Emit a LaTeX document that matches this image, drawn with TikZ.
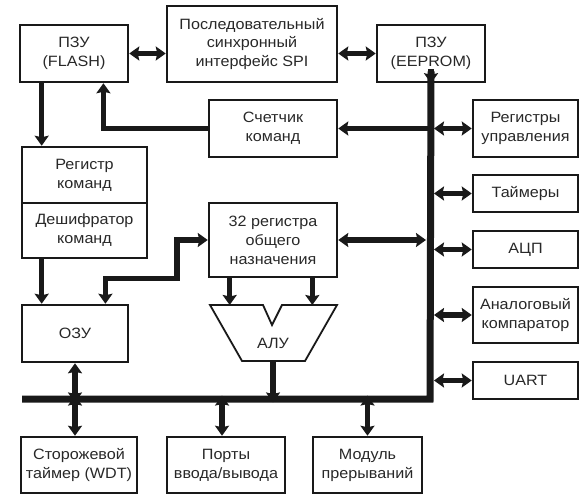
\documentclass[tikz,border=0pt]{standalone}
\usepackage{fontspec}
\setmainfont{Liberation Sans}[FakeStretch=1.08]
\usetikzlibrary{arrows.meta}
\definecolor{txt}{RGB}{40,40,40}
\tikzset{
  blk/.style={draw=black!90, line width=2.5bp, align=center, inner sep=0pt,
    text=txt, font=\fontsize{15}{19}\selectfont},
  conn/.style={line width=5.5bp, draw=black!90},
  arr/.style={conn, -{Stealth[length=10bp,width=14bp,inset=1.5bp]}},
  dbl/.style={conn, {Stealth[length=10bp,width=14bp,inset=1.5bp]}-{Stealth[length=10bp,width=14bp,inset=1.5bp]}},
  busline/.style={line width=7bp, draw=black!90}
}
\begin{document}
\begin{tikzpicture}[x=1bp,y=-1bp]
\useasboundingbox (0,0) rectangle (587,500);
% boxes
\node[blk, minimum width=108bp, minimum height=57bp] (flash) at (74,53.5) {ПЗУ\\(FLASH)};
\node[blk, minimum width=170bp, minimum height=76bp] (spi) at (252,44) {Последовательный\\синхронный\\интерфейс SPI};
\node[blk, minimum width=108bp, minimum height=57bp] (eeprom) at (431,53.5) {ПЗУ\\(EEPROM)};
\node[blk, minimum width=128bp, minimum height=57bp] (pc) at (273,128.5) {Счетчик\\команд};
\node[blk, minimum width=105bp, minimum height=57bp] (regctl) at (525.5,128.5) {Регистры\\управления};
\node[blk, minimum width=125bp, minimum height=56bp] (regcmd) at (84.5,175) {Регистр\\команд};
\node[blk, minimum width=125bp, minimum height=55bp] (decoder) at (84.5,230.5) {Дешифратор\\команд};
\node[blk, minimum width=128bp, minimum height=74bp] (gpr) at (273,240) {32 регистра\\общего\\назначения};
\node[blk, minimum width=105bp, minimum height=37bp] (timers) at (525.5,193.5) {Таймеры};
\node[blk, minimum width=105bp, minimum height=37bp] (adc) at (525.5,249.5) {АЦП};
\node[blk, minimum width=105bp, minimum height=56bp] (comp) at (525.5,315) {Аналоговый\\компаратор};
\node[blk, minimum width=105bp, minimum height=37bp] (uart) at (525.5,380.5) {UART};
\node[blk, minimum width=106bp, minimum height=57bp] (ram) at (75,333.5) {ОЗУ};
\node[blk, minimum width=116bp, minimum height=56bp] (wdt) at (79,465) {Сторожевой\\таймер (WDT)};
\node[blk, minimum width=118bp, minimum height=56bp] (ports) at (226,465) {Порты\\ввода/вывода};
\node[blk, minimum width=109bp, minimum height=56bp] (irq) at (367.5,465) {Модуль\\прерываний};
% ALU
\coordinate (aluTL) at (210,305);
\coordinate (aluN1) at (263,305);
\coordinate (aluV) at (272,325);
\coordinate (aluN2) at (282,305);
\coordinate (aluTR) at (337,305);
\coordinate (aluBR) at (305,361);
\coordinate (aluBL) at (242,361);
\coordinate (aluB) at (273,361);
\draw[line width=1.8bp, draw=black!90, line join=miter] (aluTL) -- (aluN1) -- (aluV) -- (aluN2) -- (aluTR) -- (aluBR) -- (aluBL) -- cycle;
\node[text=txt, font=\fontsize{15}{19}\selectfont] (alu) at (273,343) {АЛУ};
% bus
\coordinate (busL) at (22,399);
\coordinate (busC) at (430,399);
\draw[busline, line join=miter] (busL) -- (busC) -- ([yshift=12]eeprom.south);
\draw[arr] ([yshift=14]eeprom.south) -- (eeprom.south);
% connectors top
\draw[dbl] (flash.east) -- (flash.east -| spi.west);
\draw[dbl] (eeprom.west -| spi.east) -- (eeprom.west);
\draw[arr] ([xshift=23]flash.south west) -- ([xshift=23]flash.south west |- regcmd.north);
\draw[arr] (pc.west) -| ([xshift=85]flash.south west);
\draw[arr] (pc.east -| busC) -- (pc.east);
\draw[dbl] ([xshift=4]regctl.west -| busC) -- (regctl.west);
\draw[dbl] ([xshift=4]timers.west -| busC) -- (timers.west);
\draw[dbl] ([xshift=4]adc.west -| busC) -- (adc.west);
\draw[dbl] ([xshift=4]comp.west -| busC) -- (comp.west);
\draw[dbl] ([xshift=4]uart.west -| busC) -- (uart.west);
\draw[dbl] (gpr.east) -- ([xshift=-4]gpr.east -| busC);
% middle
\draw[arr] ([xshift=21]decoder.south west) -- ([xshift=21]decoder.south west |- ram.north);
\draw[dbl] (gpr.west) -| ([xshift=-31]gpr.south west) -| ([xshift=85]ram.north west);
\draw[arr] ([xshift=22]gpr.south west) -- ([xshift=22]gpr.south west |- aluTL);
\draw[arr] ([xshift=105]gpr.south west) -- ([xshift=105]gpr.south west |- aluTL);
\draw[arr] (aluB) -- ([yshift=-3.5]aluB |- busL);
% bottom
\draw[dbl] (ram.south) -- ([yshift=-3.5]ram.south |- busL);
\draw[dbl] ([yshift=3.5]ram.south |- busL) -- (ram.south |- wdt.north);
\draw[dbl] ([yshift=3.5, xshift=-4]ports.north |- busL) -- ([xshift=-4]ports.north);
\draw[dbl] ([yshift=3.5]irq.north |- busL) -- (irq.north);
\end{tikzpicture}
\end{document}
